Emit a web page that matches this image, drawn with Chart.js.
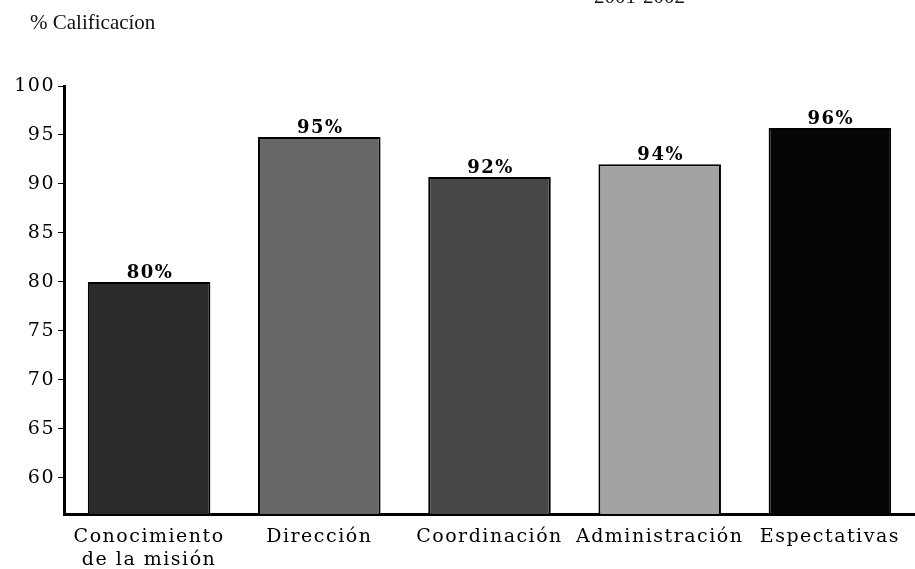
<!DOCTYPE html>
<html>
<head>
<meta charset="utf-8">
<script src="https://cdn.jsdelivr.net/npm/chart.js@4/dist/chart.umd.min.js"></script>
<style>
  body { margin: 0; background: #fff; }
  #wrap { position: relative; width: 915px; height: 569px; overflow: hidden; }
  .txt { position: absolute; font-family: "Liberation Serif", serif; font-size: 21px; line-height: 21px; color: #111; white-space: nowrap; }
  canvas { position: absolute; left: 0; top: 0; }
</style>
</head>
<body>
<div id="wrap">
  <canvas id="plot" width="915" height="569"></canvas>
  <div class="txt" style="left:30px; top:12px;">% Calificacíon</div>
  <div class="txt" style="left:594px; top:-14px;">2001-2002</div>
</div>
<script>
  // data
  const categories = [["Conocimiento", "de la misión"], "Dirección", "Coordinación", "Administración", "Espectativas"];
  const values = [80, 94.8, 90.7, 92.0, 95.7];
  const valueLabels = ["80%", "95%", "92%", "94%", "96%"];
  const barColors = ["#2b2b2b", "#676767", "#474747", "#a3a3a3", "#050505"];
  const yTicks = [60, 65, 70, 75, 80, 85, 90, 95, 100];

  const serif = "'DejaVu Serif', serif";

  // wide look of the original lettering
  const spacingPlugin = {
    id: 'spacing',
    beforeDraw(chart) {
      chart.ctx.letterSpacing = '1.5px';
    }
  };

  // percentages on top of the bars
  const topLabels = {
    id: 'topLabels',
    afterDatasetsDraw(chart) {
      const ctx = chart.ctx;
      const meta = chart.getDatasetMeta(0);
      ctx.save();
      ctx.letterSpacing = '1.5px';
      ctx.font = "bold 18px " + serif;
      ctx.fillStyle = '#000';
      ctx.textAlign = 'center';
      ctx.textBaseline = 'alphabetic';
      meta.data.forEach((bar, i) => {
        ctx.fillText(valueLabels[i], bar.x + 1, bar.y - 4);
      });
      ctx.restore();
    }
  };

  new Chart(document.getElementById('plot').getContext('2d'), {
    type: 'bar',
    data: {
      labels: categories,
      datasets: [{
        data: values,
        backgroundColor: barColors,
        borderColor: '#000',
        borderWidth: 2,
        borderSkipped: false,
        barPercentage: 0.72,
        categoryPercentage: 1
      }]
    },
    options: {
      responsive: false,
      animation: false,
      events: [],
      layout: { padding: { top: 86, left: 0, right: 0, bottom: 0 } },
      plugins: { legend: { display: false }, tooltip: { enabled: false } },
      scales: {
        x: {
          grid: { display: false },
          border: { display: true, color: '#000', width: 3 },
          ticks: {
            color: '#000',
            font: { family: serif, size: 19, lineHeight: '23px' },
            padding: 4,
            autoSkip: false,
            maxRotation: 0
          },
          afterFit(scale) { scale.height = 55; }
        },
        y: {
          min: 56.3,
          max: 100,
          grid: { display: true, drawOnChartArea: false, drawTicks: true, tickLength: 6, color: '#000', lineWidth: 1 },
          border: { display: true, color: '#000', width: 3 },
          ticks: {
            color: '#000',
            font: { family: serif, size: 19 },
            padding: 3
          },
          afterBuildTicks(axis) {
            axis.ticks = yTicks.map(v => ({ value: v }));
          },
          afterFit(scale) { scale.width = 64; }
        }
      }
    },
    plugins: [spacingPlugin, topLabels]
  });
</script>
</body>
</html>
